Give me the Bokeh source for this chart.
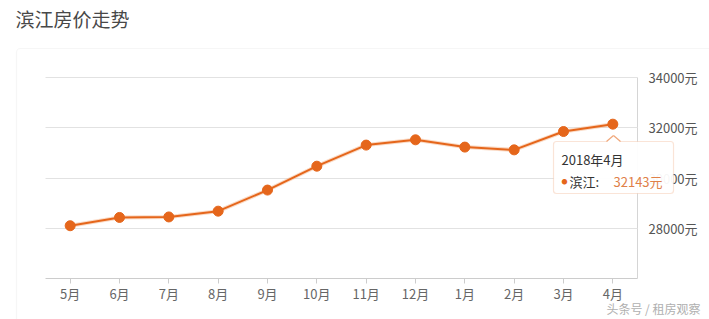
from bokeh.plotting import figure
from bokeh.models import (Range1d, FixedTicker, LinearAxis, Label, BoxAnnotation,
                          ColumnDataSource, PolyAnnotation, Arrow)
from bokeh.embed import file_html
from bokeh.resources import INLINE

# ---- data ----
months = ["5月", "6月", "7月", "8月", "9月", "10月", "11月", "12月", "1月", "2月", "3月", "4月"]
prices = [28100, 28430, 28450, 28680, 29520, 30470, 31310, 31520, 31230, 31120, 31850, 32143]
y_ticks = [28000, 30000, 32000, 34000]
y_tick_labels = ["28000元", "30000元", "32000元", "34000元"]
title_text = "滨江房价走势"
tip_title = "2018年4月"
tip_series = "滨江:"
tip_value = "32143元"
watermark = "头条号 / 租房观察"

FONT = "Noto Sans CJK SC"
ORANGE = "#E5661B"
TIP_BORDER = "#F0A77A"

W, H = 709, 319
# plot area (in canvas pixels) inside a frame that fills the whole canvas
PL, PR, PT, PB = 45, 637, 77, 278
Y0, Y1 = 26000, 34000
n = len(months)
xpos = [i + 0.5 for i in range(n)]  # category centres

px_x = (PR - PL) / n
px_y = (PB - PT) / (Y1 - Y0)
x_range = Range1d(-PL / px_x, n + (W - PR) / px_x)
y_range = Range1d(Y0 - (H - PB) / px_y, Y1 + PT / px_y)

p = figure(width=W, height=H, x_range=x_range, y_range=y_range,
           output_backend="svg", toolbar_location=None,
           min_border=0, min_border_left=0, min_border_right=0, min_border_top=0, min_border_bottom=0,
           x_axis_location=None, y_axis_location=None)
p.outline_line_color = None
p.background_fill_color = "white"
p.border_fill_color = "white"
p.xgrid.visible = False
p.ygrid.visible = False

def sy(cy):
    return H - cy

# card (outline only; background is already white)
p.add_layout(BoxAnnotation(left=16, right=W + 30, top=sy(48), bottom=-40,
                           left_units="screen", right_units="screen", top_units="screen", bottom_units="screen",
                           fill_color=None, fill_alpha=0.0, line_color="#e2e2e2", line_width=1.2,
                           border_radius=4, level="underlay"))

# title
p.add_layout(Label(x=15, y=sy(18), x_units="screen", y_units="screen", text=title_text,
                   text_font=FONT, text_font_size="19px", text_color="#484848",
                   text_baseline="middle", text_align="left"))

# x axis (fixed at the bottom of the plot area)
xa = LinearAxis(ticker=FixedTicker(ticks=xpos), fixed_location=Y0, bounds=(0, n), level="underlay")
xa.major_label_overrides = {x: m for x, m in zip(xpos, months)}
xa.axis_line_color = "#cccccc"
xa.major_tick_line_color = "#cccccc"
xa.major_tick_out = 5
xa.major_tick_in = 0
xa.minor_tick_line_color = None
xa.major_label_text_font = FONT
xa.major_label_text_font_size = "13px"
xa.major_label_text_color = "#666666"
xa.major_label_standoff = 0
p.add_layout(xa, "below")

# y axis on the right; its inward ticks act as the horizontal grid lines
ya = LinearAxis(ticker=FixedTicker(ticks=y_ticks), fixed_location=n, bounds=(Y0, Y1), level="underlay")
ya.major_label_overrides = {t: l for t, l in zip(y_ticks, y_tick_labels)}
ya.axis_line_color = "#d5d5d5"
ya.major_tick_line_color = "#e2e2e2"
ya.major_tick_in = PR - PL
ya.major_tick_out = 0
ya.minor_tick_line_color = None
ya.major_label_text_font = FONT
ya.major_label_text_font_size = "13px"
ya.major_label_text_color = "#555555"
ya.major_label_standoff = 11
p.add_layout(ya, "right")

src = ColumnDataSource(dict(x=xpos, v=prices))
p.line("x", "v", source=src, line_color="#F6B68C", line_width=4, line_alpha=0.5)
p.line("x", "v", source=src, line_color=ORANGE, line_width=2)
p.scatter("x", "v", source=src, size=10, fill_color=ORANGE, line_color=ORANGE)

# tooltip
p.add_layout(BoxAnnotation(left=553, right=673, top=sy(141), bottom=sy(193),
                           left_units="screen", right_units="screen", top_units="screen", bottom_units="screen",
                           fill_color="white", fill_alpha=0.95, line_color=TIP_BORDER, line_width=1.2,
                           border_radius=3, level="overlay"))
p.add_layout(PolyAnnotation(xs=[606, 613, 620], ys=[sy(142), sy(135), sy(142)],
                            xs_units="screen", ys_units="screen", fill_color="white", fill_alpha=1.0,
                            line_color=None, level="overlay"))
for (x0, y0, x1, y1) in [(606, 141, 613, 135), (613, 135, 620, 141)]:
    p.add_layout(Arrow(x_start=x0, y_start=sy(y0), x_end=x1, y_end=sy(y1),
                       start_units="screen", end_units="screen", end=None,
                       line_color=TIP_BORDER, line_width=1.2, level="overlay"))
p.add_layout(Label(x=561, y=sy(159), x_units="screen", y_units="screen", text=tip_title,
                   text_font=FONT, text_font_size="13px", text_color="#333333",
                   text_baseline="middle", text_align="left", level="overlay"))
p.add_layout(Label(x=561, y=sy(181), x_units="screen", y_units="screen", text="●",
                   text_font=FONT, text_font_size="6px", text_color=ORANGE,
                   text_baseline="middle", text_align="left", level="overlay"))
p.add_layout(Label(x=569, y=sy(181), x_units="screen", y_units="screen", text=tip_series,
                   text_font=FONT, text_font_size="13px", text_color="#333333",
                   text_baseline="middle", text_align="left", level="overlay"))
p.add_layout(Label(x=613, y=sy(181), x_units="screen", y_units="screen", text=tip_value,
                   text_font=FONT, text_font_size="13px", text_color="#E08048",
                   text_baseline="middle", text_align="left", level="overlay"))

# watermark
p.add_layout(Label(x=700, y=sy(308), x_units="screen", y_units="screen", text=watermark,
                   text_font=FONT, text_font_size="12px", text_color="#b0b0b0",
                   text_baseline="middle", text_align="right", level="overlay"))

open("out.html", "w").write(file_html(p, INLINE))
